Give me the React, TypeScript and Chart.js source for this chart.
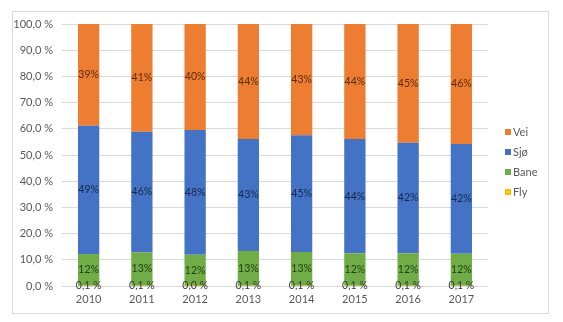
import React, { useEffect, useRef } from "react";
import { Chart, registerables } from "chart.js";

Chart.register(...registerables);

const years = ["2010", "2011", "2012", "2013", "2014", "2015", "2016", "2017"];
const fly = [0.1, 0.1, 0.04, 0.1, 0.1, 0.1, 0.1, 0.1];
const bane = [12.1, 12.7, 11.9, 13.3, 12.9, 12.4, 12.4, 12.2];
const sjo = [49.0, 46.1, 47.6, 42.7, 44.5, 43.6, 42.2, 41.9];
const vei = [38.8, 41.1, 40.46, 43.9, 42.5, 43.9, 45.3, 45.8];
const yTicks = [0, 10, 20, 30, 40, 50, 60, 70, 80, 90, 100];

const FONT = "Lato, 'Open Sans', sans-serif";

const colors = {
  vei: "#ED7D31",
  sjo: "#4472C4",
  bane: "#70AD47",
  fly: "#FFC000",
};
const labelColors = ["#3a3a3a", "#1f3d14", "#16284d", "#5a2c0c"];

const pct1 = (v: number) => v.toFixed(1).replace(".", ",") + " %";

const labelPlugin = {
  id: "segLabels",
  afterDatasetsDraw(chart: any) {
    const ctx = chart.ctx;
    ctx.save();
    ctx.font = `10.5px ${FONT}`;
    ctx.textAlign = "center";
    ctx.textBaseline = "middle";
    chart.data.datasets.forEach((ds: any, di: number) => {
      const meta = chart.getDatasetMeta(di);
      meta.data.forEach((bar: any, i: number) => {
        const v = ds.data[i];
        const text = di === 0 ? pct1(v) : Math.round(v) + "%";
        const y = (bar.y + bar.base) / 2;
        ctx.fillStyle = labelColors[di];
        ctx.fillText(text, bar.x, y);
      });
    });
    ctx.restore();
  },
};

const framePlugin = {
  id: "frameLegend",
  afterDraw(chart: any) {
    const ctx = chart.ctx;
    ctx.save();
    ctx.strokeStyle = "#d9d9d9";
    ctx.lineWidth = 1;
    ctx.strokeRect(12.5, 11.5, 536, 302);
    // legend (reverse order)
    const items = chart.data.datasets
      .map((d: any) => ({ label: d.label, color: d.backgroundColor }))
      .reverse();
    ctx.font = `11px ${FONT}`;
    ctx.textBaseline = "middle";
    ctx.textAlign = "left";
    items.forEach((it: any, k: number) => {
      const y = 132 + k * 20;
      ctx.fillStyle = it.color;
      ctx.fillRect(505, y - 3, 6, 6);
      ctx.fillStyle = "#595959";
      ctx.fillText(it.label, 513, y);
    });
    ctx.restore();
  },
};

export default function App() {
  const ref = useRef<HTMLCanvasElement | null>(null);
  useEffect(() => {
    if (!ref.current) return;
    const chart = new Chart(ref.current, {
      type: "bar",
      data: {
        labels: years,
        datasets: [
          { label: "Fly", data: fly, backgroundColor: colors.fly },
          { label: "Bane", data: bane, backgroundColor: colors.bane },
          { label: "Sjø", data: sjo, backgroundColor: colors.sjo },
          { label: "Vei", data: vei, backgroundColor: colors.vei },
        ],
      },
      options: {
        responsive: false,
        animation: false,
        events: [],
        layout: { padding: { top: 24, right: 75, left: 0, bottom: 0 } },
        datasets: {
          bar: { categoryPercentage: 1, barPercentage: 0.4, borderWidth: 0 },
        },
        plugins: {
          legend: { display: false },
          tooltip: { enabled: false },
        },
        scales: {
          x: {
            stacked: true,
            grid: { display: false, drawTicks: false },
            border: { display: false },
            ticks: {
              color: "#595959",
              font: { family: FONT, size: 11 },
              padding: 7,
              maxRotation: 0,
            },
            afterFit: (axis: any) => {
              axis.height = 36;
            },
          },
          y: {
            stacked: true,
            min: 0,
            max: 100,
            afterBuildTicks: (axis: any) => {
              axis.ticks = yTicks.map((v) => ({ value: v }));
            },
            grid: { color: "#d9d9d9", drawTicks: false },
            border: { display: false },
            ticks: {
              color: "#595959",
              font: { family: FONT, size: 11 },
              padding: 9,
              callback: (v: any) => pct1(Number(v)),
            },
            afterFit: (axis: any) => {
              axis.width = 62;
            },
          },
        },
      },
      plugins: [labelPlugin, framePlugin],
    });
    return () => chart.destroy();
  }, []);
  return (
    <div style={{ position: "fixed", left: 0, top: 0, width: 563, height: 322, background: "#fff" }}>
      <canvas ref={ref} width={563} height={322} style={{ display: "block" }} />
    </div>
  );
}
